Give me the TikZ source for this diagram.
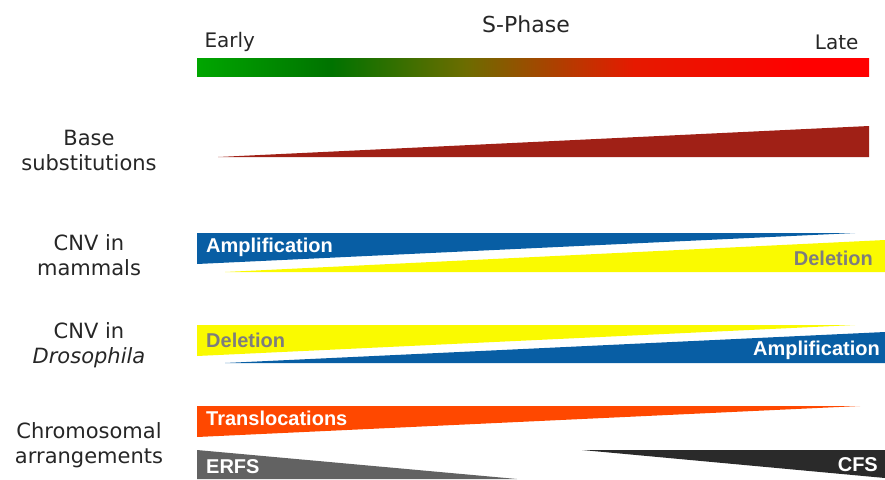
\documentclass[tikz,border=0pt]{standalone}
\usepackage{fontspec}
\setmainfont{DejaVu Sans}
\newfontfamily\barfont{Liberation Sans}
\usetikzlibrary{calc,positioning}

\definecolor{ampblue}{RGB}{8,94,164}
\definecolor{delyellow}{RGB}{250,250,0}
\definecolor{delgray}{RGB}{125,125,125}
\definecolor{subred}{RGB}{160,32,22}
\definecolor{transred}{RGB}{255,72,0}
\definecolor{erfsgray}{RGB}{98,98,98}
\definecolor{cfsdark}{RGB}{42,42,42}

% green -> olive -> red along the S-phase bar
\pgfdeclarehorizontalshading{sphase}{100bp}{
  color(0bp)=(green!65!black);
  color(25bp)=(green!65!black);
  color(35bp)=(green!45!black);
  color(45bp)=(olive!85!black);
  color(57.5bp)=(red!80!olive);
  color(70bp)=(red);
  color(100bp)=(red)}

\tikzset{
  rowlabel/.style={align=center, font=\fontsize{21}{25}\selectfont, text=black!85},
  phaselabel/.style={font=\fontsize{20}{24}\selectfont, text=black!85},
  wedgetext/.style={font=\barfont\bfseries\fontsize{20}{24}\selectfont, inner sep=0pt},
  onwhite/.style={wedgetext, text=white},
  ongray/.style={wedgetext, text=delgray}
}

\begin{document}
\begin{tikzpicture}[x=1pt, y=-1pt]
\useasboundingbox (0,0) rectangle (885,479);

% S-phase bar
\shade[shading=sphase] (197,58) rectangle (869,76);
\node[phaselabel, font=\fontsize{22}{24}\selectfont] (sphase) at (526,24) {S-Phase};
\node[phaselabel, anchor=west] (early) at (201,42) {Early};
\node[phaselabel, anchor=east] (late) at (862,42) {Late};

% base substitutions
\fill[subred] (218,157) -- (869,126) -- (869,157) -- cycle;
\node[rowlabel] (base) at (89,150) {Base\\substitutions};

% CNV in mammals
\fill[ampblue] (197,233) -- (855,233) -- (197,264) -- cycle;
\fill[delyellow] (225,272) -- (885,240) -- (885,272) -- cycle;
\node[rowlabel] (mammals) at (89,255) {CNV in\\mammals};
\node[onwhite, anchor=west] (ampM) at (206,247) {Amplification};
\node[ongray, anchor=east] (delM) at (873,258) {Deletion};

% CNV in Drosophila
\fill[delyellow] (197,325) -- (855,325) -- (197,356) -- cycle;
\fill[ampblue] (225,363) -- (885,332) -- (885,363) -- cycle;
\node[rowlabel] (drosophila) at (89,345) {CNV in\\\textit{Drosophila}};
\node[ongray, anchor=west] (delD) at (206,340) {Deletion};
\node[onwhite, anchor=east] (ampD) at (880,350) {Amplification};

% chromosomal arrangements
\fill[transred] (197,406) -- (860,406) -- (197,437) -- cycle;
\fill[erfsgray] (197,450) -- (517,479) -- (197,479) -- cycle;
\fill[cfsdark] (582,450) -- (885,450) -- (885,478) -- cycle;
\node[rowlabel] (chromo) at (89,445) {Chromosomal\\arrangements};
\node[onwhite, anchor=west] (trans) at (206,418) {Translocations};
\node[onwhite, anchor=west] (erfs) at (206,467) {ERFS};
\node[onwhite, anchor=east] (cfs) at (878,465) {CFS};
\end{tikzpicture}
\end{document}
